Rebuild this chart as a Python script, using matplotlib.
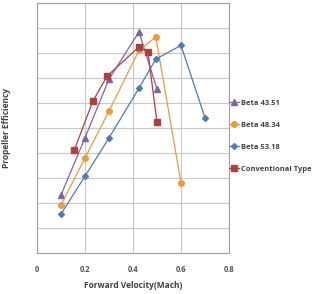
import matplotlib
matplotlib.use("Agg")
import matplotlib.pyplot as plt

beta4351_x = [0.1, 0.2, 0.3, 0.425, 0.5]
beta4351_y = [0.23, 0.46, 0.695, 0.884, 0.655]
beta4834_x = [0.1, 0.2, 0.3, 0.425, 0.495, 0.6]
beta4834_y = [0.19, 0.379, 0.567, 0.81, 0.864, 0.28]
beta5318_x = [0.1, 0.2, 0.3, 0.425, 0.495, 0.6, 0.7]
beta5318_y = [0.154, 0.306, 0.459, 0.659, 0.775, 0.83, 0.54]
conv_x = [0.155, 0.233, 0.292, 0.425, 0.462, 0.5]
conv_y = [0.41, 0.607, 0.707, 0.824, 0.804, 0.522]
x_ticks = [0, 0.2, 0.4, 0.6, 0.8]
x_tick_labels = ["0", "0.2", "0.4", "0.6", "0.8"]

plt.rcParams['font.family'] = ['Open Sans', 'DejaVu Sans']

fig = plt.figure(figsize=(3.15, 2.94), dpi=100)
ax = fig.add_axes([37/315, 1-252.5/294, (229-37)/315, (252.5-3)/294])

ax.plot(beta4351_x, beta4351_y, color="#7866a8", marker="^", markersize=4, lw=0.9, label="Beta 43.51")
ax.plot(beta4834_x, beta4834_y, color="#ee9a42", marker="o", markersize=4, lw=0.9, label="Beta 48.34")
ax.plot(beta5318_x, beta5318_y, color="#4f79b8", marker="D", markersize=3, lw=0.9, label="Beta 53.18")
ax.plot(conv_x, conv_y, color="#b0403f", marker="s", markersize=4, lw=0.9, label="Conventional Type")

ax.set_xlim(0, 0.8)
ax.set_ylim(0, 1)
ax.set_xticks(x_ticks)
ax.set_xticklabels(x_tick_labels, fontsize=5.5, fontweight="bold", color="#555555")
ax.set_yticks([i/10 for i in range(11)])
ax.set_yticklabels([])
ax.tick_params(length=0, pad=9)
ax.grid(True, color="#c8c8c8", lw=0.8)
for s in ax.spines.values():
    s.set_color("#a0a0a0")
    s.set_linewidth(0.8)

ax.set_xlabel("Forward Velocity(Mach)", fontsize=6, fontweight="bold", color="#404040", labelpad=5)
fig.text(7/315, 1-128/294, "Propeller Efficiency", rotation=90, fontsize=6, fontweight="bold",
         color="#404040", ha="center", va="center")

leg = fig.legend(loc="upper left", bbox_to_anchor=(222/315, 1-93/294), frameon=False,
                 labelspacing=1.95, handlelength=1.4, handletextpad=0.2,
                 prop={"family": ["Open Sans", "DejaVu Sans"], "weight": "bold", "size": 5.4})
for t in leg.get_texts():
    t.set_color("#404040")

fig.savefig("out.png", dpi=100)
